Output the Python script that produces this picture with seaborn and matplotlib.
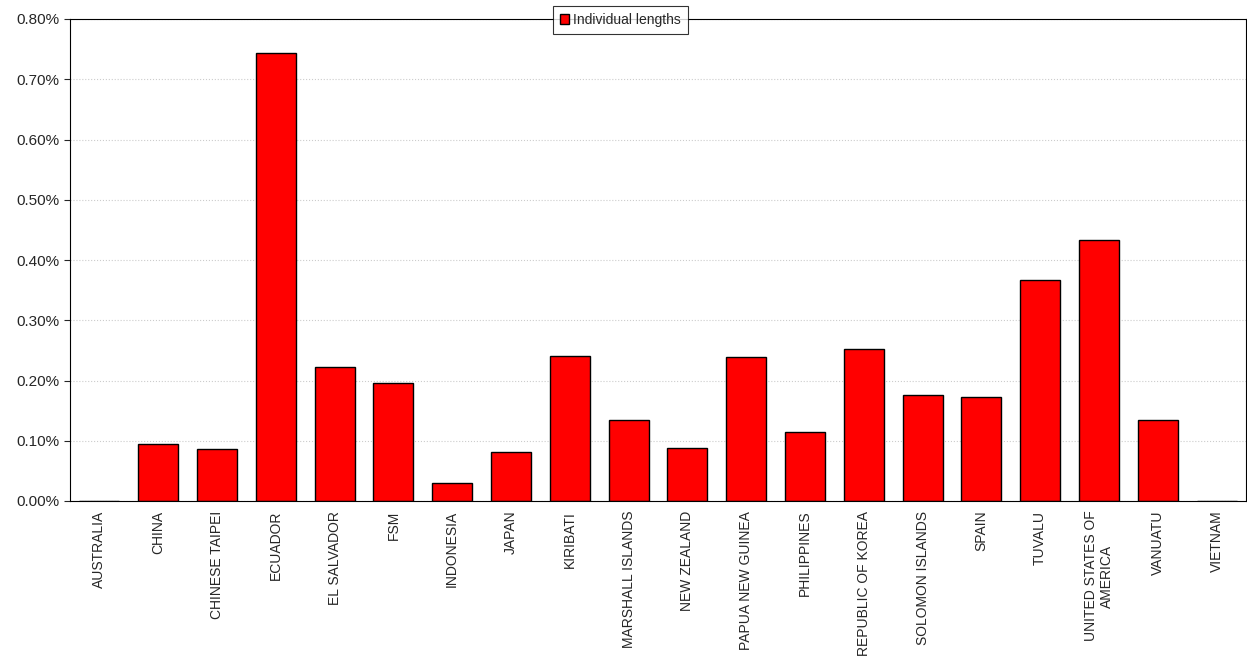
import matplotlib
matplotlib.use("Agg")
import seaborn as sns
import pandas as pd
from matplotlib import pyplot as plt
from matplotlib.ticker import FuncFormatter

countries = ['AUSTRALIA', 'CHINA', 'CHINESE TAIPEI', 'ECUADOR', 'EL SALVADOR', 'FSM',
             'INDONESIA', 'JAPAN', 'KIRIBATI', 'MARSHALL ISLANDS', 'NEW ZEALAND',
             'PAPUA NEW GUINEA', 'PHILIPPINES', 'REPUBLIC OF KOREA', 'SOLOMON ISLANDS',
             'SPAIN', 'TUVALU', 'UNITED STATES OF\nAMERICA', 'VANUATU', 'VIETNAM']
values = [0.0, 0.0946, 0.0866, 0.7436, 0.222, 0.196, 0.030, 0.081, 0.240, 0.134, 0.088,
          0.239, 0.115, 0.253, 0.176, 0.173, 0.367, 0.433, 0.134, 0.0]
yticks = [0.0, 0.1, 0.2, 0.3, 0.4, 0.5, 0.6, 0.7, 0.8]

sns.set_style('white')
plt.rcParams['font.family'] = ['Liberation Sans', 'DejaVu Sans']

df = pd.DataFrame({'country': countries, 'pct': values})

fig = plt.figure(figsize=(12.47, 6.71), dpi=100)
ax = fig.add_axes([70 / 1247, 170 / 671, 1176 / 1247, 482 / 671])
sns.barplot(data=df, x='country', y='pct', color='#ff0000', edgecolor='black',
            linewidth=1, width=0.68, saturation=1, ax=ax, label='Individual lengths')
ax.set_ylim(0, 0.8)
ax.set_xlim(-0.5, len(countries) - 0.5)
ax.set_yticks(yticks)
ax.yaxis.set_major_formatter(FuncFormatter(lambda v, p: '{:.2f}%'.format(v)))
ax.grid(axis='y', color='#cccccc', linestyle=':', linewidth=0.8)
ax.set_axisbelow(True)
ax.set_xlabel('')
ax.set_ylabel('')
ax.tick_params(axis='y', labelsize=11, left=True, length=4)
ax.tick_params(axis='x', labelsize=10, rotation=90)
for s in ax.spines.values():
    s.set_color('black')
    s.set_linewidth(0.8)
leg = ax.legend(loc='upper center', bbox_to_anchor=(0.468, 1.027), fontsize=10, frameon=True,
                fancybox=False, edgecolor='black', handlelength=0.7, handleheight=0.7,
                handletextpad=0.3, borderpad=0.5, borderaxespad=0)
leg.get_frame().set_linewidth(0.8)
fig.savefig('out.png', dpi=100)
